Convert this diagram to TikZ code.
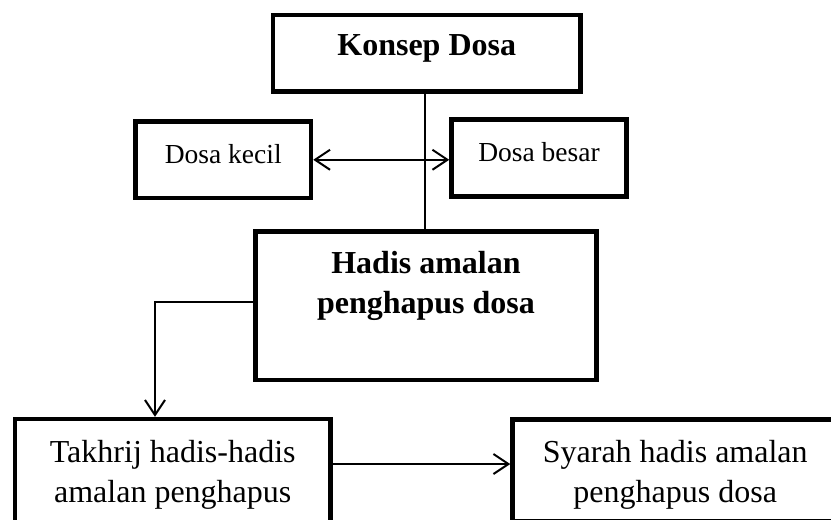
\documentclass[tikz,border=0pt]{standalone}
\usepackage{fontspec}
\setmainfont{Liberation Serif}
\usetikzlibrary{arrows.meta}

\begin{document}
\begin{tikzpicture}[x=1pt, y=-1pt, >={Straight Barb[length=15pt,width=20pt]},
    box/.style={draw, line width=4.5pt, inner sep=0pt, align=center, anchor=north west},
    big/.style={font=\fontsize{32}{40}\selectfont},
    small/.style={font=\fontsize{27.5}{34}\selectfont},
    conn/.style={line width=2pt}]
  \useasboundingbox (0,0) rectangle (831,520);
  \node[box, big, minimum width=307.5pt, text height=40pt, text depth=36.5pt] (konsep) at (270.75,12.75) {\textbf{Konsep Dosa}};
  \node[box, small, minimum width=175.5pt, text height=41.5pt, text depth=35pt] (kecil) at (133.25,119.25) {Dosa kecil};
  \node[box, small, minimum width=175pt, text height=41.5pt, text depth=35.5pt] (besar) at (449.25,117.25) {Dosa besar};
  \node[box, big, minimum width=341pt, text height=81.5pt, text depth=67pt] (hadis) at (253.25,229.25) {\textbf{Hadis amalan}\\\textbf{penghapus dosa}};
  \node[box, big, minimum width=315.5pt, text height=83pt, text depth=23pt] (takhrij) at (12.75,416.75) {Takhrij hadis-hadis\\amalan penghapus};
  \node[box, big, minimum width=325.5pt, text height=82.5pt, text depth=19pt] (syarah) at (510.25,417.25) {Syarah hadis amalan\\penghapus dosa};
  \draw[conn] ([xshift=-1.75pt]konsep.south) -- ([xshift=-1.75pt]konsep.south |- hadis.north);
  \draw[conn, <->] (kecil.east) -- (kecil.east -| besar.west);
  \draw[conn, ->] ([yshift=3.75pt]hadis.west) -| ([xshift=-17.75pt]takhrij.north);
  \draw[conn, ->] ([yshift=8pt]takhrij.east) -- ([yshift=8pt]takhrij.east -| syarah.west);
\end{tikzpicture}
\end{document}
